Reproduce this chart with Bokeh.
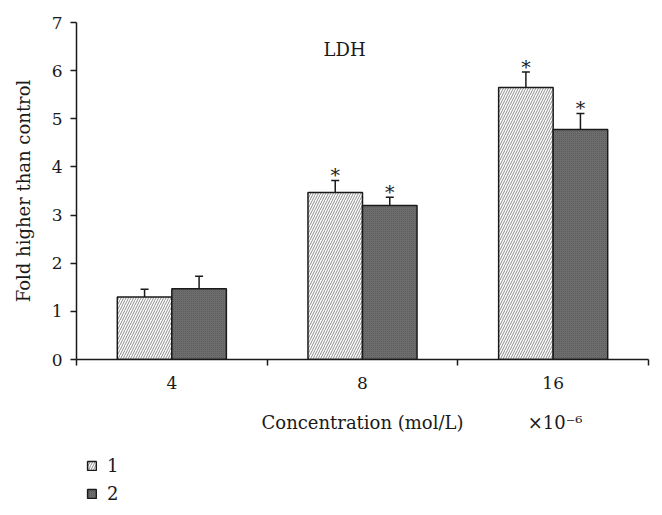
from bokeh.plotting import figure
from bokeh.models import (ColumnDataSource, FixedTicker, Whisker, TeeHead, Label,
                          Legend, LegendItem, Range1d, LinearAxis)
from bokeh.layouts import column
from bokeh.core.properties import value
from bokeh.embed import file_html
from bokeh.resources import INLINE
import numpy as np

categories = ["4", "8", "16"]
series1 = [1.30, 3.47, 5.65]
series1_err = [0.16, 0.25, 0.32]
series2 = [1.47, 3.20, 4.78]
series2_err = [0.26, 0.17, 0.33]
series1_sig = ["", "*", "*"]
series2_sig = ["", "*", "*"]
series_names = ["1", "2"]
y_ticks = [0, 1, 2, 3, 4, 5, 6, 7]
x_title = "Concentration (mol/L)"
x_unit = "×10⁻⁶"

FONT = "DejaVu Serif"
INK = "#1a1a1a"

STYLE1 = dict(fill_color="white", line_color=INK, line_width=1.5,
              hatch_pattern="right_diagonal_line", hatch_color="#8c8c8c",
              hatch_scale=5, hatch_weight=1.0)
STYLE2 = dict(fill_color="#777777", line_color=INK, line_width=1.5,
              hatch_pattern="criss_cross", hatch_color="#5a5a5a",
              hatch_scale=2, hatch_weight=0.6)

centers = np.arange(len(categories)) + 0.5
bw = 0.286
x1 = centers - bw / 2
x2 = centers + bw / 2

s1 = ColumnDataSource(dict(x=x1, top=series1, upper=np.array(series1) + np.array(series1_err), sig=series1_sig))
s2 = ColumnDataSource(dict(x=x2, top=series2, upper=np.array(series2) + np.array(series2_err), sig=series2_sig))

p = figure(width=660, height=450, output_backend="svg", toolbar_location=None,
           x_range=Range1d(0, 3), y_range=Range1d(0, 7),
           min_border_left=76, min_border_right=12, min_border_top=22, min_border_bottom=91)
p.outline_line_color = None
p.xgrid.visible = False
p.ygrid.visible = False

r1 = p.vbar(x="x", top="top", width=bw, source=s1, **STYLE1)
r2 = p.vbar(x="x", top="top", width=bw, source=s2, **STYLE2)

for src in (s1, s2):
    w = Whisker(source=src, base="x", lower="top", upper="upper",
                line_color=INK, line_width=1.5,
                upper_head=TeeHead(size=8, line_color=INK, line_width=1.5),
                lower_head=None)
    p.add_layout(w)
    p.text(x="x", y="upper", text="sig", source=src, text_align="center",
           text_baseline="middle", y_offset=-5, text_font=value(FONT),
           text_font_size="19px", text_color=INK)

# y axis
p.yaxis.ticker = FixedTicker(ticks=y_ticks)
p.yaxis.axis_label = "Fold higher than control"
p.yaxis.axis_label_text_font = FONT
p.yaxis.axis_label_text_font_style = "normal"
p.yaxis.axis_label_text_font_size = "18px"
p.yaxis.axis_label_text_color = INK
p.yaxis.axis_label_standoff = 15
p.yaxis.major_label_text_font = FONT
p.yaxis.major_label_text_font_size = "17px"
p.yaxis.major_label_text_color = INK
p.yaxis.major_label_standoff = 8
p.yaxis.major_tick_out = 6
p.yaxis.major_tick_in = 0
p.yaxis.minor_tick_out = 0
p.yaxis.minor_tick_in = 0
p.yaxis.axis_line_width = 1.5
p.yaxis.axis_line_color = INK
p.yaxis.major_tick_line_width = 1.5
p.yaxis.major_tick_line_color = INK

# x axis: labels at category centers, tick marks at boundaries
p.xaxis.ticker = FixedTicker(ticks=list(centers), minor_ticks=list(range(len(categories) + 1)))
p.xaxis.major_label_overrides = {float(c): lab for c, lab in zip(centers, categories)}
p.xaxis.major_tick_out = 0
p.xaxis.major_tick_in = 0
p.xaxis.minor_tick_out = 6
p.xaxis.minor_tick_in = 0
p.xaxis.minor_tick_line_width = 1.5
p.xaxis.minor_tick_line_color = INK
p.xaxis.axis_line_width = 1.5
p.xaxis.axis_line_color = INK
p.xaxis.major_label_text_font = FONT
p.xaxis.major_label_text_font_size = "17px"
p.xaxis.major_label_text_color = INK
p.xaxis.major_label_standoff = 11

# second row below: axis title and unit on the same line
title_pos = [1.5, 2.51]
ax2 = LinearAxis(ticker=FixedTicker(ticks=title_pos),
                 major_label_overrides={title_pos[0]: x_title, title_pos[1]: x_unit},
                 axis_line_color=None, major_tick_line_color=None,
                 minor_tick_line_color=None, major_tick_out=0, major_tick_in=0,
                 minor_tick_out=0, minor_tick_in=0,
                 major_label_text_font=FONT, major_label_text_font_size="18px",
                 major_label_text_color=INK, major_label_standoff=20)
p.add_layout(ax2, "below")

# title text inside plot
p.add_layout(Label(x=1.406, y=6.44, text="LDH", text_font=FONT, text_font_size="18px",
                   text_align="center", text_baseline="middle", text_color=INK))

# legend strip below the chart (hidden proxy bars from the same data)
p2 = figure(width=660, height=62, output_backend="svg", toolbar_location=None,
            x_range=Range1d(0, 3), y_range=Range1d(0, 7),
            min_border_left=76, min_border_right=12, min_border_top=0, min_border_bottom=0)
p2.axis.visible = False
p2.grid.visible = False
p2.outline_line_color = None
l1 = p2.vbar(x="x", top="top", width=bw, source=s1, visible=False, **STYLE1)
l2 = p2.vbar(x="x", top="top", width=bw, source=s2, visible=False, **STYLE2)
legend = Legend(items=[LegendItem(label=series_names[0], renderers=[l1]),
                       LegendItem(label=series_names[1], renderers=[l2])],
                location=(10, 8), orientation="vertical",
                glyph_width=11, glyph_height=11, label_height=20, spacing=7,
                padding=0, margin=0, border_line_color=None,
                background_fill_alpha=0, label_text_font=FONT,
                label_text_font_size="18px", label_text_color=INK,
                label_standoff=10)
p2.add_layout(legend, "center")

open("out.html", "w").write(file_html(column(p, p2, spacing=0), INLINE))
